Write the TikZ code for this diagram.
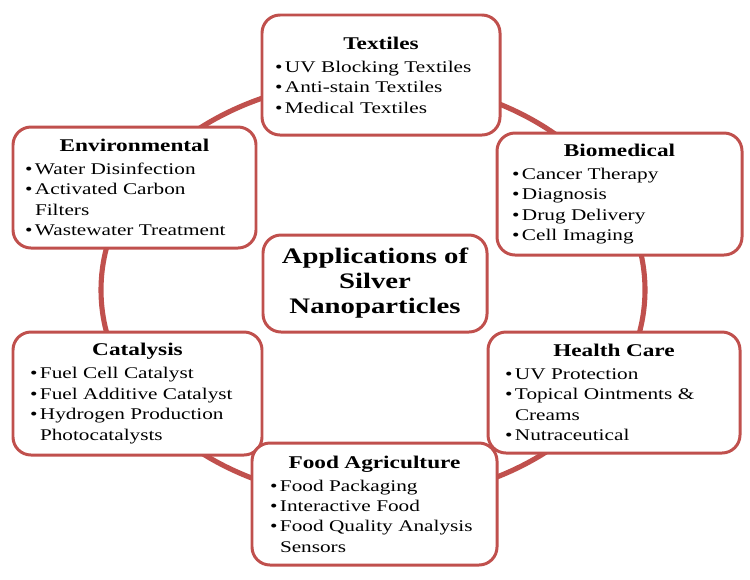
\documentclass[tikz,border=0pt]{standalone}
\usepackage{fontspec}
\setmainfont{Liberation Serif}[FakeStretch=1.3]
\usetikzlibrary{positioning}

\newlength{\du}
\setlength{\du}{0.02cm}

\definecolor{ringcolor}{rgb}{0.753, 0.314, 0.302}

\newcommand{\boxtitle}[1]{\centerline{\fontsize{10.2}{13}\selectfont\bfseries #1}\par\vspace{1.5pt}}
\newcommand{\bul}[1]{\par\noindent\hangindent=10\du\hangafter=1%
  \makebox[10\du][l]{\textbullet}#1\par}

\tikzset{
  appbox/.style={draw=ringcolor, line width=1.7pt, fill=white, rounded corners=18\du,
    align=left, inner ysep=2pt, font=\fontsize{9.3}{11.6}\selectfont},
  hubbox/.style={appbox, align=center, font=\fontsize{12.6}{14.2}\selectfont\bfseries},
  ring/.style={draw=ringcolor, line width=2.9pt}
}

\begin{document}
\begin{tikzpicture}[x=1\du, y=-1\du]
\useasboundingbox (0,0) rectangle (750,579);

% ring behind the boxes
\draw[ring] (373,290) ellipse [x radius=272\du, y radius=210\du];

% centre
\node[hubbox, minimum width=224\du, minimum height=97\du] (hub) at (375,283.5)
  {Applications of\\Silver\\Nanoparticles};

% application areas
\node[appbox, minimum height=120\du, inner xsep=13\du, text width=212\du] (textiles) at (381,75) {%
  \boxtitle{Textiles}%
  \bul{UV Blocking Textiles}%
  \bul{Anti-stain Textiles}%
  \bul{Medical Textiles}};

\node[appbox, minimum height=121\du, inner xsep=12\du, text width=219\du] (environ) at (134.5,187.5) {%
  \boxtitle{Environmental}%
  \bul{Water Disinfection}%
  \bul{Activated Carbon\newline Filters}%
  \bul{Wastewater Treatment}};

\node[appbox, minimum height=122\du, inner xsep=15\du, text width=215\du] (biomed) at (619.5,194) {%
  \boxtitle{Biomedical}%
  \bul{Cancer Therapy}%
  \bul{Diagnosis}%
  \bul{Drug Delivery}%
  \bul{Cell Imaging}};

\node[appbox, minimum height=123\du, inner xsep=17\du, text width=215\du] (catalysis) at (137.5,393.5) {%
  \boxtitle{Catalysis}%
  \bul{Fuel Cell Catalyst}%
  \bul{Fuel Additive Catalyst}%
  \bul{Hydrogen Production\newline Photocatalysts}};

\node[appbox, minimum height=121\du, inner xsep=17\du, text width=218\du] (health) at (614,392.5) {%
  \boxtitle{Health Care}%
  \bul{UV Protection}%
  \bul{Topical Ointments \&\newline Creams}%
  \bul{Nutraceutical}};

\node[appbox, minimum height=122\du, inner xsep=18\du, text width=209\du] (food) at (374.5,504) {%
  \boxtitle{Food Agriculture}%
  \bul{Food Packaging}%
  \bul{Interactive Food}%
  \bul{Food Quality Analysis\newline Sensors}};
\end{tikzpicture}
\end{document}
